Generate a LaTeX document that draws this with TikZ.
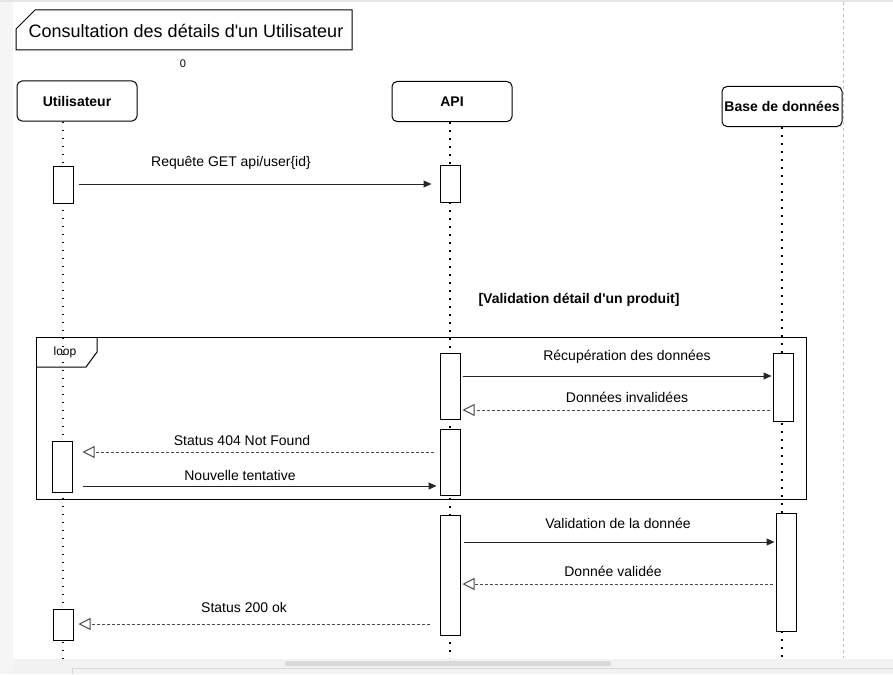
\documentclass[tikz,border=0pt]{standalone}
\usepackage{fontspec}
\setmainfont{Liberation Sans}
\usetikzlibrary{arrows.meta}

\tikzset{
  actor/.style={draw, rounded corners=5pt, minimum width=120pt, minimum height=40pt,
    inner sep=0pt, font=\fontsize{14}{16}\selectfont\bfseries},
  activ/.style={draw, fill=white, minimum width=20pt, inner sep=0pt},
  lifeline/.style={line width=1.8pt, dash pattern=on 1.8pt off 6.2pt},
  call/.style={draw=black!85, -{Triangle[length=8pt,width=7pt]}},
  reply/.style={draw=black!70, dash pattern=on 3pt off 2pt,
    -{Triangle[open,length=12pt,width=12pt,fill=white]}},
  lbl/.style={inner sep=0pt, font=\fontsize{14}{16}\selectfont}
}

\begin{document}
\begin{tikzpicture}[x=1pt,y=-1pt,line width=1pt]
\useasboundingbox (0,0) rectangle (893,674);

% page around the diagram
\fill[black!4] (0,0) rectangle (13,674);
\fill[black!10] (0,0) rectangle (893,2);
\draw[black!25, line width=0.8pt, dash pattern=on 3pt off 3pt] (843,2) -- (843,658);
\fill[black!5] (13,659) rectangle (893,674);
\draw[black!15] (72,668) -- (893,668) (72,668) -- (72,674);
\fill[black!15, rounded corners=2pt] (285,661) rectangle (611,666);

% title
\draw (16,29) -- (35,10) -- (352,10) -- (352,50) -- (16,50) -- cycle;
\node[font=\fontsize{18}{20}\selectfont] (title) at (186,31) {Consultation des détails d\textquotesingle un Utilisateur};
\node[font=\fontsize{11}{12}\selectfont] (zero) at (183,64) {0};

% participants
\node[actor] (user) at (77,101) {Utilisateur};
\node[actor] (api) at (452,101.5) {API};
\node[actor] (db) at (782,106.5) {Base de données};

\coordinate (xu) at (63,0);
\coordinate (xa) at (450,0);
\coordinate (xd) at (782,0);
\coordinate (bottom) at (0,658);

\draw[lifeline] (user.south -| xu) -- (xu |- bottom);
\draw[lifeline] (api.south -| xa) -- (xa |- bottom);
\draw[lifeline] (db.south -| xd) -- (xd |- bottom);

% loop
\draw (36,337) rectangle (806,499);
\draw (36,367) -- (86,367) -- (97,352) -- (97,337);
\node[font=\fontsize{12}{14}\selectfont] (loop) at (65,352) {loop};
\node[lbl, font=\fontsize{14}{16}\selectfont\bfseries] (guard) at (579,300) {[Validation détail d\textquotesingle un produit]};

% activations
\node[activ, minimum height=37pt] (ua1) at (63,184.5) {};
\node[activ, minimum height=37pt] (aa1) at (450,183.5) {};
\node[activ, minimum height=66pt] (aa2) at (450,386) {};
\node[activ, minimum height=68pt] (da2) at (783,387) {};
\node[activ, minimum height=66pt] (aa3) at (450,462) {};
\node[activ, minimum height=51pt] (ua2) at (62,466.5) {};
\node[activ, minimum height=120pt] (aa4) at (450,575) {};
\node[activ, minimum height=118pt] (da3) at (786,572) {};
\node[activ, minimum height=31pt] (ua3) at (63,624.5) {};

% messages
\draw[call, shorten <=5pt, shorten >=8pt] (ua1.east |- 0,184) -- (aa1.west |- 0,184);
\node[lbl] (m1) at (231,163) {Requête GET api/user\{id\}};

\draw[call, shorten <=2pt, shorten >=1pt] (aa2.east |- 0,376) -- (da2.west |- 0,376);
\node[lbl] (m2) at (627,357) {Récupération des données};

\draw[reply, shorten <=3pt, shorten >=2pt] (da2.west |- 0,410) -- (aa2.east |- 0,410);
\node[lbl] (m3) at (627,397) {Données invalidées};

\draw[reply, shorten <=6pt, shorten >=10pt] (aa3.west |- 0,452) -- (ua2.east |- 0,452);
\node[lbl] (m4) at (242,440) {Status 404 Not Found};

\draw[call, shorten <=10pt, shorten >=3pt] (ua2.east |- 0,486) -- (aa3.west |- 0,486);
\node[lbl] (m5) at (240,475) {Nouvelle tentative};

\draw[call, shorten <=3pt, shorten >=1pt] (aa4.east |- 0,542) -- (da3.west |- 0,542);
\node[lbl] (m6) at (618,523) {Validation de la donnée};

\draw[reply, shorten <=3pt, shorten >=2pt] (da3.west |- 0,584) -- (aa4.east |- 0,584);
\node[lbl] (m7) at (613,571) {Donnée validée};

\draw[reply, shorten <=10pt, shorten >=5pt] (aa4.west |- 0,624) -- (ua3.east |- 0,624);
\node[lbl] (m8) at (244,607) {Status 200 ok};

\end{tikzpicture}
\end{document}
